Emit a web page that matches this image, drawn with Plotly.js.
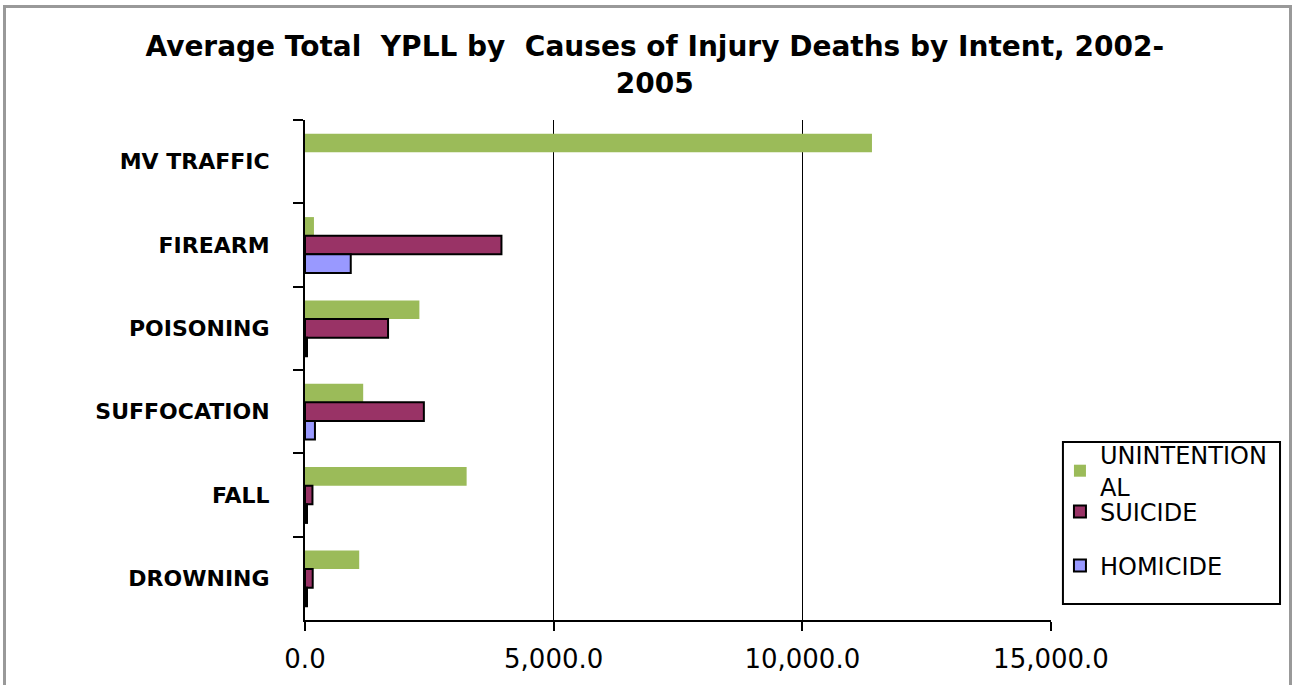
<!DOCTYPE html>
<html>
<head>
<meta charset="utf-8">
<script src="https://cdn.plot.ly/plotly-3.0.1.min.js"></script>
<style>
html,body{margin:0;padding:0;background:#fff;}
#frame{position:absolute;left:3px;top:5px;width:1283px;height:700px;border:3px solid #999;box-sizing:content-box;}
#chart{position:absolute;left:0;top:0;width:1294px;height:685px;}
</style>
</head>
<body>
<div id="frame"></div>
<div id="chart"></div>
<script>
const categories = ["MV TRAFFIC", "FIREARM", "POISONING", "SUFFOCATION", "FALL", "DROWNING"];
const unintentional = [11400, 180, 2300, 1170, 3250, 1090];
const suicide = [null, 3950, 1670, 2390, 150, 155];
const homicide = [null, 920, 40, 200, 40, 40];
const xTicks = [0, 5000, 10000, 15000];
const xTickLabels = ["0.0", "5,000.0", "10,000.0", "15,000.0"];

const legendFont = {family: "DejaVu Sans", size: 24, color: "#000"};
const traces = [
  {type: "bar", orientation: "h", name: "UNINTENTION<br>AL", y: categories, x: unintentional,
   marker: {color: "#9BBB59", line: {width: 0}}, legend: "legend"},
  {type: "bar", orientation: "h", name: "SUICIDE", y: categories, x: suicide,
   marker: {color: "#993366", line: {color: "#000", width: 2}}, legend: "legend2"},
  {type: "bar", orientation: "h", name: "HOMICIDE", y: categories, x: homicide,
   marker: {color: "#9999FF", line: {color: "#000", width: 2}}, legend: "legend3"}
];

const legendBase = {xref: "paper", yref: "paper", xanchor: "left", yanchor: "middle",
  bgcolor: "rgba(0,0,0,0)", borderwidth: 0, font: legendFont, itemclick: false};

const layout = {
  width: 1294, height: 685,
  margin: {l: 305, r: 243, t: 120, b: 65},
  paper_bgcolor: "rgba(0,0,0,0)", plot_bgcolor: "#fff",
  title: {text: "Average Total  YPLL by  Causes of Injury Deaths by Intent, 2002-<br>2005",
    font: {family: "DejaVu Sans", size: 28, weight: "bold", color: "#000"},
    xref: "container", x: 0.506, xanchor: "center", yref: "container", y: 0.918, yanchor: "top"},
  barmode: "group", bargap: 0.33, bargroupgap: 0,
  xaxis: {range: [0, 15000], tickvals: xTicks, ticktext: xTickLabels,
    showgrid: true, gridcolor: "#000", gridwidth: 1,
    showline: true, linecolor: "#000", linewidth: 2,
    ticks: "outside", ticklen: 9, tickwidth: 2, tickcolor: "#000",
    tickfont: {family: "DejaVu Sans", size: 26, color: "#000"}, ticklabelstandoff: 6,
    zeroline: false, fixedrange: true},
  yaxis: {type: "category", autorange: "reversed", categoryorder: "array", categoryarray: categories,
    showline: true, linecolor: "#000", linewidth: 2, showgrid: false,
    ticks: "outside", tickson: "boundaries", ticklen: 10, tickwidth: 2, tickcolor: "#000",
    tickfont: {family: "DejaVu Sans", size: 22, weight: "bold", color: "#000"}, ticklabelstandoff: 29,
    fixedrange: true},
  legend: Object.assign({}, legendBase, {x: 1.012, y: 0.298}),
  legend2: Object.assign({}, legendBase, {x: 1.012, y: 0.216}),
  legend3: Object.assign({}, legendBase, {x: 1.012, y: 0.108}),
  shapes: [
    {type: "rect", xref: "paper", yref: "paper", x0: 1.016, x1: 1.307, y0: 0.032, y1: 0.356,
     line: {color: "#000", width: 2}, fillcolor: "rgba(0,0,0,0)", layer: "above"}
  ],
  showlegend: true
};

Plotly.newPlot("chart", traces, layout, {displayModeBar: false, staticPlot: true});
</script>
</body>
</html>
